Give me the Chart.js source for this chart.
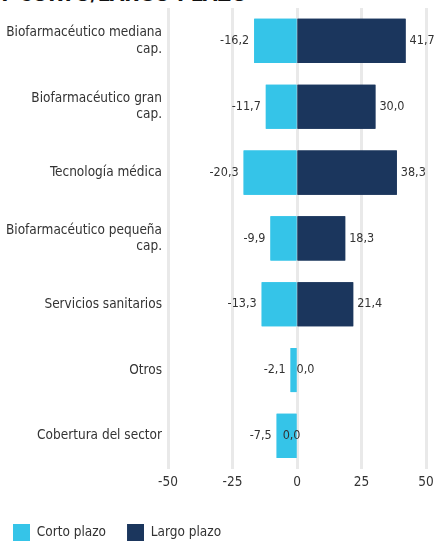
<!DOCTYPE html>
<html lang="es">
<head>
    <meta charset="UTF-8">
    <title>Corto / largo plazo</title>
    <script src="https://cdn.jsdelivr.net/npm/chart.js"></script>
    <style>
        body {
            margin: 0;
            background: #fff;
            overflow: hidden;
            font-family: "DejaVu Sans Condensed", sans-serif;
        }
        #title {
            position: absolute;
            left: -2px;
            top: -18px;
            font-weight: bold;
            font-size: 21px;
            color: #111;
            white-space: nowrap;
        }
        #wrap {
            position: absolute;
            left: 0;
            top: 0;
            width: 435px;
            height: 541px;
        }
    </style>
</head>
<body>

    <div id="title">Y CORTO/LARGO PLAZO</div>
    <div id="wrap"><canvas id="myBarChart"></canvas></div>

    <script type='text/javascript'>
    // data
    const categories = [
        ['Biofarmacéutico mediana', 'cap.'],
        ['Biofarmacéutico gran', 'cap.'],
        'Tecnología médica',
        ['Biofarmacéutico pequeña', 'cap.'],
        'Servicios sanitarios',
        'Otros',
        'Cobertura del sector'
    ];
    const cortoPlazo = [-16.2, -11.7, -20.3, -9.9, -13.3, -2.1, -7.5];
    const largoPlazo = [41.7, 30.0, 38.3, 18.3, 21.4, 0.0, 0.0];
    const xTicks = [-50, -25, 0, 25, 50];

    const FONT = '"DejaVu Sans Condensed", sans-serif';
    const fmt = v => v.toFixed(1).replace('.', ',');

    // grow real bars by 1px so the two halves meet at 0, leave 0-length bars out
    const inflate = c => (c.raw === 0 ? 0 : 1);

    // bars again on top of the grid, then the value labels next to them
    const valueLabels = {
        id: 'valueLabels',
        afterDraw(chart) {
            const ctx = chart.ctx;
            chart.data.datasets.forEach((ds, i) => {
                chart.getDatasetMeta(i).controller.draw();
            });
            ctx.save();
            ctx.font = '12.5px ' + FONT;
            ctx.fillStyle = '#333';
            ctx.textBaseline = 'middle';
            chart.data.datasets.forEach((ds, i) => {
                chart.getDatasetMeta(i).data.forEach((bar, j) => {
                    const v = ds.data[j];
                    if (i === 0) {
                        ctx.textAlign = 'right';
                        ctx.fillText(fmt(v), bar.x - 6, bar.y);
                    } else {
                        ctx.textAlign = 'left';
                        ctx.fillText(fmt(v), bar.x + 5, bar.y);
                    }
                });
            });
            ctx.restore();
        }
    };

    var ctx = document.getElementById('myBarChart').getContext('2d');

    new Chart(ctx, {
        type: 'bar',
        data: {
            labels: categories,
            datasets: [{
                label: 'Corto plazo',
                backgroundColor: '#35c4e8',
                borderWidth: 0,
                inflateAmount: inflate,
                data: cortoPlazo,
                barPercentage: 0.64,
                categoryPercentage: 1
            }, {
                label: 'Largo plazo',
                backgroundColor: '#1b365d',
                borderWidth: 0,
                inflateAmount: inflate,
                data: largoPlazo,
                barPercentage: 0.64,
                categoryPercentage: 1
            }]
        },
        plugins: [valueLabels],
        options: {
            indexAxis: 'y',
            responsive: true,
            maintainAspectRatio: false,
            animation: false,
            layout: { padding: { top: 8, right: 9, left: -8, bottom: -10 } },
            plugins: {
                tooltip: { enabled: false },
                legend: {
                    position: 'bottom',
                    align: 'start',
                    labels: {
                        font: { family: FONT, size: 13.5 },
                        color: '#333',
                        boxWidth: 17,
                        boxHeight: 17,
                        padding: 21
                    }
                }
            },
            scales: {
                x: {
                    stacked: true,
                    min: -50,
                    max: 50,
                    afterBuildTicks: axis => { axis.ticks = xTicks.map(v => ({ value: v })); },
                    afterFit: axis => {
                        axis.paddingLeft = 0;
                        axis.paddingRight = 0;
                        axis.height += 6;
                    },
                    grid: { color: '#e9e9e9', lineWidth: 3, drawTicks: false },
                    border: { display: false },
                    ticks: {
                        font: { family: FONT, size: 13.5 },
                        color: '#333',
                        padding: 6
                    }
                },
                y: {
                    stacked: true,
                    grid: { display: false, drawTicks: false },
                    border: { display: false },
                    afterFit: axis => {
                        axis.width = 176;
                        axis.paddingTop = 0;
                        axis.paddingBottom = 0;
                    },
                    ticks: {
                        font: { family: FONT, size: 13.5 },
                        color: '#333',
                        padding: 6
                    }
                }
            }
        }
    });
    </script>

</body></html>
